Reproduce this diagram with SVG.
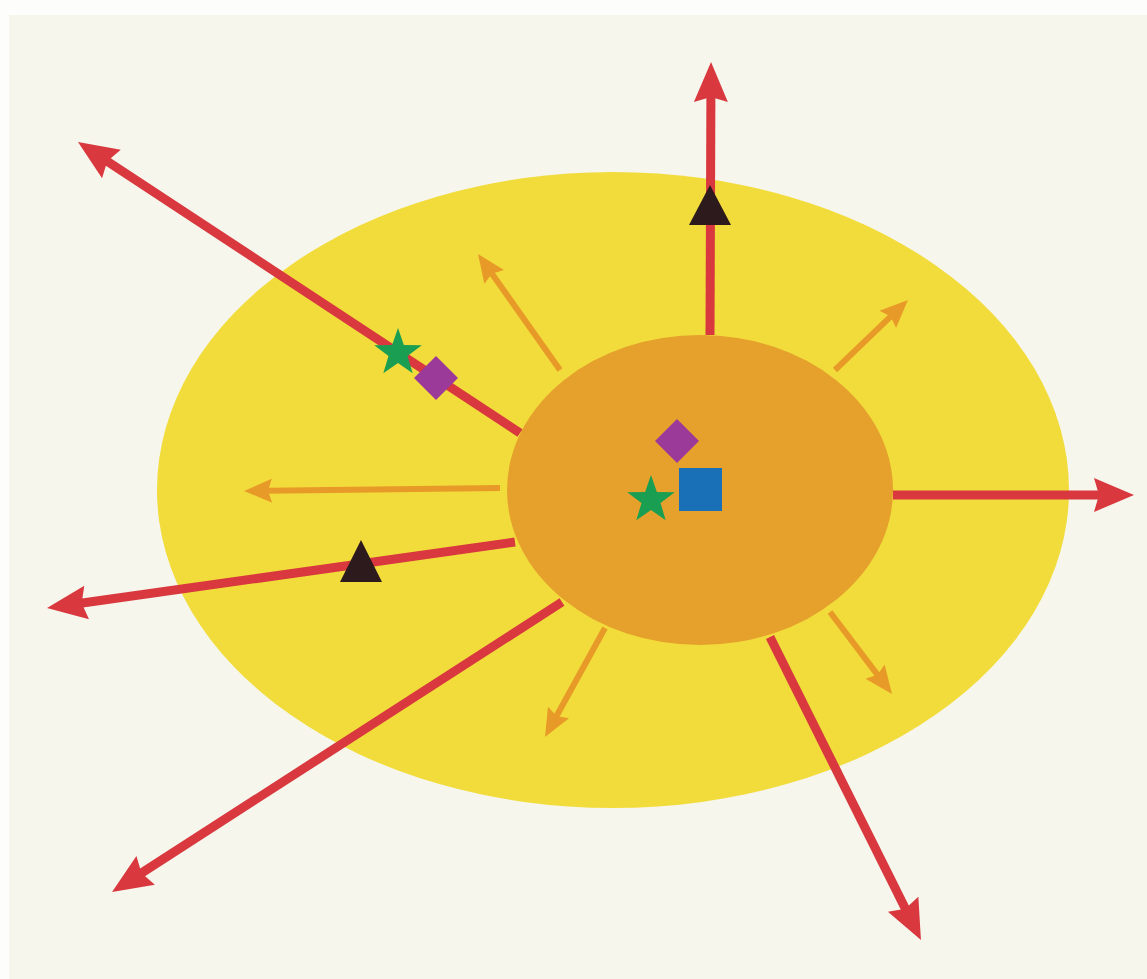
<svg xmlns="http://www.w3.org/2000/svg" xmlns:xlink="http://www.w3.org/1999/xlink" width="1147" height="979" viewBox="0 0 1147 979">
<style>
.red{stroke:#d8383e;stroke-width:9;fill:none;marker-end:url(#rh)}
.org{stroke:#e89a28;stroke-width:6;fill:none;marker-end:url(#oh)}
.star{fill:#1a9e52}
.dia{fill:#9b3a98}
.tri{fill:#2c1a1c}
</style>
<defs>
<marker id="rh" markerUnits="userSpaceOnUse" markerWidth="50" markerHeight="40" viewBox="-42 -20 44 40" refX="-34" refY="0" orient="auto">
<path d="M0,0 L-40,-17 L-35,0 L-40,17 Z" fill="#d8383e"/>
</marker>
<marker id="oh" markerUnits="userSpaceOnUse" markerWidth="40" markerHeight="30" viewBox="-32 -15 34 30" refX="-22" refY="0" orient="auto">
<path d="M0,0 L-28,-12 L-24,0 L-28,12 Z" fill="#e89a28"/>
</marker>
<path id="starshape" d="M0,-25 L5.88,-8.09 L23.78,-7.73 L9.51,3.09 L14.69,20.23 L0,10 L-14.69,20.23 L-9.51,3.09 L-23.78,-7.73 L-5.88,-8.09 Z"/>
</defs>
<rect x="0" y="0" width="1147" height="979" fill="#fdfdfb"/>
<rect x="9" y="15" width="1138" height="964" fill="#f6f6ec"/>
<g id="outer-zone"><ellipse cx="613" cy="490" rx="456" ry="318" fill="#f2dc3c"/></g>
<g id="inner-zone"><ellipse cx="700" cy="490" rx="193" ry="155" fill="#e6a02c"/></g>
<g id="connectors">
<line class="org" x1="560" y1="370" x2="490.7" y2="272"/>
<line class="org" x1="835" y1="370" x2="892.1" y2="315.2"/>
<line class="org" x1="500" y1="488" x2="266" y2="490.7"/>
<line class="org" x1="605" y1="628" x2="555.6" y2="717.7"/>
<line class="org" x1="830" y1="612" x2="878.7" y2="676.4"/>
<line class="red" x1="710" y1="335" x2="710.9" y2="96"/>
<line class="red" x1="520" y1="433" x2="106.4" y2="160.7"/>
<line class="red" x1="893" y1="495" x2="1100" y2="495"/>
<line class="red" x1="515" y1="542" x2="80.7" y2="603.3"/>
<line class="red" x1="562" y1="602" x2="140.6" y2="873.6"/>
<line class="red" x1="770" y1="637" x2="905.8" y2="909.6"/>
</g>
<g id="markers-outer">
<polygon class="tri" points="710,185 731,225 689,225"/>
<polygon class="tri" points="361,540 382,582 340,582"/>
<use href="#starshape" class="star" transform="translate(398,353)"/>
<polygon class="dia" points="436,356 458,378 436,400 414,378"/>
</g>
<g id="markers-center">
<polygon class="dia" points="677,419 699,441 677,463 655,441"/>
<rect x="679" y="468" width="43" height="43" fill="#1a70b6"/>
<use href="#starshape" class="star" transform="translate(651,500)"/>
</g>
</svg>
